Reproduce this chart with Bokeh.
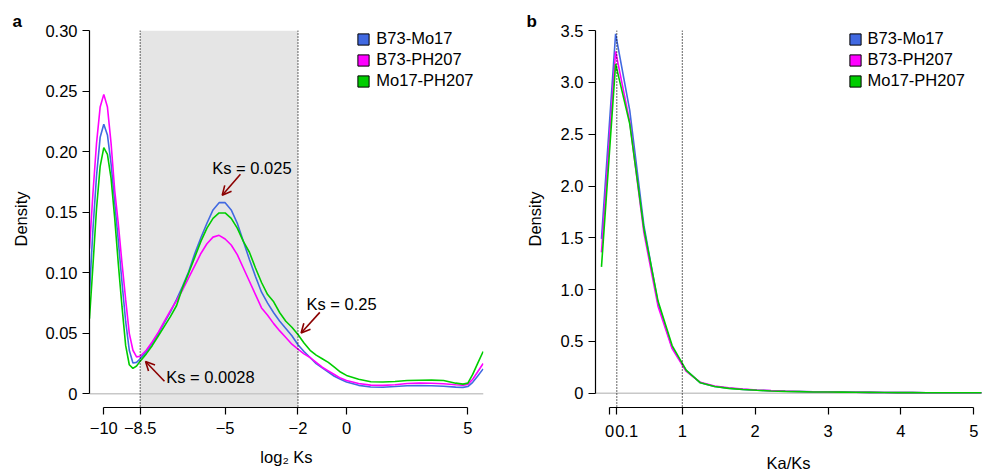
from bokeh.plotting import figure
from bokeh.layouts import row
from bokeh.models import (FixedTicker, Span, BoxAnnotation, Label, Arrow, OpenHead,
                          Legend, LegendItem, ColumnDataSource)
from bokeh.embed import file_html
from bokeh.resources import INLINE

FONT = "Liberation Sans"
FS = "16.5px"
C_BLUE = "#4169E1"
C_MAG = "#FF00FF"
C_GREEN = "#00CD00"
ARROW_C = "#8B0000"

series_names = ["B73-Mo17", "B73-PH207", "Mo17-PH207"]

# ---------------- Panel a: density of log2 Ks ----------------
log2ks = [-10.59, -10.45, -10.3, -10.15, -10.0, -9.85, -9.7, -9.55, -9.4, -9.25, -9.1, -8.95,
          -8.8, -8.65, -8.5, -8.25, -8.0, -7.75, -7.5, -7.25, -7.0, -6.75, -6.5, -6.25, -6.0,
          -5.75, -5.5, -5.25, -5.0, -4.75, -4.5, -4.25, -4.0, -3.75, -3.5, -3.25, -3.0, -2.75,
          -2.5, -2.25, -2.0, -1.75, -1.5, -1.25, -1.0, -0.75, -0.5, -0.25, 0.0, 0.5, 1.0, 1.5,
          2.0, 2.5, 3.0, 3.5, 4.0, 4.5, 4.8, 5.0, 5.2, 5.4, 5.63]
dens_b73_mo17 = [0.083, 0.135, 0.180, 0.212, 0.2228, 0.214, 0.190, 0.158, 0.126, 0.092, 0.060,
                 0.036, 0.0255, 0.026, 0.029, 0.035, 0.042, 0.050, 0.059, 0.068, 0.078, 0.089,
                 0.101, 0.116, 0.129, 0.141, 0.152, 0.158, 0.158, 0.152, 0.141, 0.126, 0.111,
                 0.097, 0.084, 0.075, 0.067, 0.060, 0.054, 0.048, 0.0405, 0.035, 0.030, 0.025,
                 0.0215, 0.018, 0.0145, 0.012, 0.0098, 0.0070, 0.0056, 0.0054, 0.0060, 0.0067,
                 0.0068, 0.0066, 0.0062, 0.0055, 0.0053, 0.0060, 0.0095, 0.0145, 0.0206]
dens_b73_ph207 = [0.120, 0.165, 0.207, 0.237, 0.2475, 0.237, 0.207, 0.168, 0.140, 0.108, 0.078,
                  0.050, 0.036, 0.0305, 0.031, 0.036, 0.043, 0.051, 0.060, 0.069, 0.077, 0.086,
                  0.096, 0.106, 0.116, 0.124, 0.1295, 0.131, 0.128, 0.123, 0.115, 0.104, 0.093,
                  0.082, 0.071, 0.065, 0.058, 0.052, 0.0465, 0.041, 0.037, 0.033, 0.030, 0.026,
                  0.022, 0.019, 0.016, 0.013, 0.011, 0.0085, 0.0072, 0.0070, 0.0075, 0.0085,
                  0.0088, 0.0087, 0.0083, 0.0075, 0.0072, 0.0078, 0.012, 0.018, 0.025]
dens_mo17_ph207 = [0.062, 0.105, 0.153, 0.188, 0.2035, 0.198, 0.178, 0.145, 0.107, 0.072, 0.040,
                   0.024, 0.021, 0.023, 0.027, 0.033, 0.040, 0.048, 0.056, 0.064, 0.073, 0.088,
                   0.100, 0.113, 0.126, 0.137, 0.145, 0.1495, 0.1495, 0.145, 0.137, 0.126, 0.117,
                   0.104, 0.092, 0.082, 0.076, 0.067, 0.060, 0.055, 0.049, 0.042, 0.036, 0.032,
                   0.029, 0.026, 0.022, 0.018, 0.0152, 0.012, 0.010, 0.0097, 0.0102, 0.011,
                   0.0112, 0.0113, 0.011, 0.0088, 0.0080, 0.0088, 0.016, 0.025, 0.035]

a_xticks = [-10, -8.5, -5, -2, 0, 5]
a_xlabels = ["\u221210", "\u22128.5", "\u22125", "\u22122", "0", "5"]
a_yticks = [0, 0.05, 0.10, 0.15, 0.20, 0.25, 0.30]
a_ylabels = ["0", "0.05", "0.10", "0.15", "0.20", "0.25", "0.30"]
ks_window = [-8.5, -2]
ks_notes = ["Ks = 0.025", "Ks = 0.0028", "Ks = 0.25"]

# ---------------- Panel b: density of Ka/Ks ----------------
kaks = [-0.11, 0.084, 0.278, 0.472, 0.666, 0.86, 1.054, 1.248, 1.442, 1.636, 1.83, 2.024,
        2.218, 2.412, 2.606, 2.8, 2.994, 3.188, 3.382, 3.576, 3.77, 3.964, 4.158, 4.352,
        4.546, 4.74, 4.934, 5.128]
kd_b73_mo17 = [1.49, 3.47, 2.73, 1.62, 0.87, 0.44, 0.22, 0.10, 0.065, 0.048, 0.037, 0.029,
               0.023, 0.019, 0.016, 0.013, 0.011, 0.010, 0.009, 0.008, 0.007, 0.006, 0.006,
               0.005, 0.005, 0.004, 0.004, 0.004]
kd_b73_ph207 = [1.36, 3.30, 2.62, 1.55, 0.84, 0.43, 0.21, 0.105, 0.070, 0.052, 0.040, 0.031,
                0.025, 0.020, 0.017, 0.014, 0.012, 0.010, 0.009, 0.008, 0.007, 0.006, 0.006,
                0.005, 0.005, 0.004, 0.004, 0.004]
kd_mo17_ph207 = [1.22, 3.18, 2.60, 1.59, 0.89, 0.46, 0.22, 0.10, 0.064, 0.047, 0.036, 0.028,
                 0.022, 0.018, 0.015, 0.012, 0.011, 0.010, 0.009, 0.008, 0.007, 0.006, 0.006,
                 0.005, 0.005, 0.004, 0.004, 0.004]
b_xticks = [0, 0.1, 1, 2, 3, 4, 5]
b_xlabels = ["0", "\u2002\u2002\u20090.1", "1", "2", "3", "4", "5"]
b_yticks = [0, 0.5, 1.0, 1.5, 2.0, 2.5, 3.0, 3.5]
b_ylabels = ["0", "0.5", "1.0", "1.5", "2.0", "2.5", "3.0", "3.5"]
kaks_marks = [0.1, 1]

colors = [C_BLUE, C_MAG, C_GREEN]


def style_axes(p, xticks, xlabels, yticks, ylabels, xb, yb, ylabel_standoff, xlabel):
    for ax in (p.xaxis[0], p.yaxis[0]):
        ax.axis_line_color = "black"
        ax.axis_line_width = 1.2
        ax.major_tick_line_color = "black"
        ax.major_tick_line_width = 1.2
        ax.major_tick_out = 7
        ax.major_tick_in = 0
        ax.minor_tick_line_color = None
        ax.major_label_text_font = FONT
        ax.major_label_text_font_size = FS
        ax.major_label_text_color = "black"
        ax.axis_label_text_font = FONT
        ax.axis_label_text_font_size = FS
        ax.axis_label_text_font_style = "normal"
        ax.axis_label_text_color = "black"
    p.xaxis[0].ticker = FixedTicker(ticks=xticks)
    p.xaxis[0].major_label_overrides = {t: l for t, l in zip(xticks, xlabels)}
    p.xaxis[0].bounds = xb
    p.xaxis[0].major_label_standoff = 7
    p.xaxis[0].axis_label = xlabel
    p.xaxis[0].axis_label_standoff = 11
    p.yaxis[0].ticker = FixedTicker(ticks=yticks)
    p.yaxis[0].major_label_overrides = {t: l for t, l in zip(yticks, ylabels)}
    p.yaxis[0].bounds = yb
    p.yaxis[0].major_label_standoff = 5
    p.yaxis[0].axis_label = "Density"
    p.yaxis[0].axis_label_standoff = ylabel_standoff
    p.xgrid.grid_line_color = None
    p.ygrid.grid_line_color = None
    p.outline_line_color = None


def style_title(p, offset):
    p.title.text_font = FONT
    p.title.text_font_size = "17px"
    p.title.text_font_style = "bold"
    p.title.text_color = "black"
    p.title.align = "left"
    p.title.offset = offset
    p.title.standoff = 0


def add_legend(p, vx, vy):
    items = []
    nan = float("nan")
    for name, c in zip(series_names, colors):
        src = ColumnDataSource(dict(left=[nan], right=[nan], top=[nan], bottom=[nan]))
        r = p.quad(left="left", right="right", top="top", bottom="bottom", source=src,
                   fill_color=c, line_color="black", line_width=1)
        items.append(LegendItem(label=name, renderers=[r]))
    lg = Legend(items=items, location=(vx, vy), padding=0, margin=0, spacing=2,
                glyph_width=14, glyph_height=14, label_height=18, label_standoff=6,
                label_text_font=FONT, label_text_font_size=FS, label_text_color="black",
                border_line_color=None, background_fill_alpha=0)
    p.add_layout(lg)


# ---------- figure a ----------
pa = figure(title="a", frame_width=394, frame_height=377, min_border_left=89,
            min_border_right=17, min_border_top=30, min_border_bottom=63,
            x_range=(-10.589, 5.645), y_range=(-0.01132, 0.3003),
            output_backend="svg", toolbar_location=None)
style_title(pa, -77)
pa.add_layout(BoxAnnotation(left=ks_window[0], right=ks_window[1], fill_color="#E5E5E5",
                            fill_alpha=1, line_color=None, level="underlay"))
pa.add_layout(Span(location=0, dimension="width", line_color="#C8C8C8", line_width=1.5,
                   level="underlay"))
for xv in ks_window:
    pa.add_layout(Span(location=xv, dimension="height", line_color="black", line_width=1.2,
                       line_dash="1 2"))
for ys, c in zip([dens_b73_mo17, dens_b73_ph207, dens_mo17_ph207], colors):
    pa.line(log2ks, ys, line_color=c, line_width=1.6)
style_axes(pa, a_xticks, a_xlabels, a_yticks, a_ylabels, (-10, 5), (0, 0.30), 12,
           "log\u2082 Ks")

arrow_pts = [(-4.37, 0.1815, -5.12, 0.1642), (-7.50, 0.0104, -8.28, 0.0267),
             (-1.10, 0.0673, -1.87, 0.0503)]
for (xs, ys_, xe, ye) in arrow_pts:
    pa.add_layout(Arrow(x_start=xs, y_start=ys_, x_end=xe, y_end=ye, line_color=ARROW_C,
                        line_width=1.6,
                        end=OpenHead(size=9, line_color=ARROW_C, line_width=1.6)))
note_pos = [(-5.53, 0.187), (-7.43, 0.0137), (-1.65, 0.0743)]
for txt, (xv, yv) in zip(ks_notes, note_pos):
    pa.add_layout(Label(x=xv, y=yv, text=txt, text_font=FONT, text_font_size=FS,
                        text_color="black", text_baseline="alphabetic", text_align="left"))
add_legend(pa, 267.3, 317)

# ---------- figure b ----------
pb = figure(title="b", frame_width=386, frame_height=377, min_border_left=95,
            min_border_right=2, min_border_top=30, min_border_bottom=63,
            x_range=(-0.192, 5.106), y_range=(-0.138, 3.502),
            output_backend="svg", toolbar_location=None)
style_title(pb, -69)
pb.add_layout(Span(location=0, dimension="width", line_color="#C8C8C8", line_width=1.5,
                   level="underlay"))
for xv in kaks_marks:
    pb.add_layout(Span(location=xv, dimension="height", line_color="black", line_width=1.2,
                       line_dash="1 2"))
for ys, c in zip([kd_b73_mo17, kd_b73_ph207, kd_mo17_ph207], colors):
    pb.line(kaks, ys, line_color=c, line_width=1.6)
style_axes(pb, b_xticks, b_xlabels, b_yticks, b_ylabels, (0, 5), (0, 3.5), 14, "Ka/Ks")
add_legend(pb, 252.6, 317)

layout = row(pa, pb)
open("out.html", "w").write(file_html(layout, INLINE))
